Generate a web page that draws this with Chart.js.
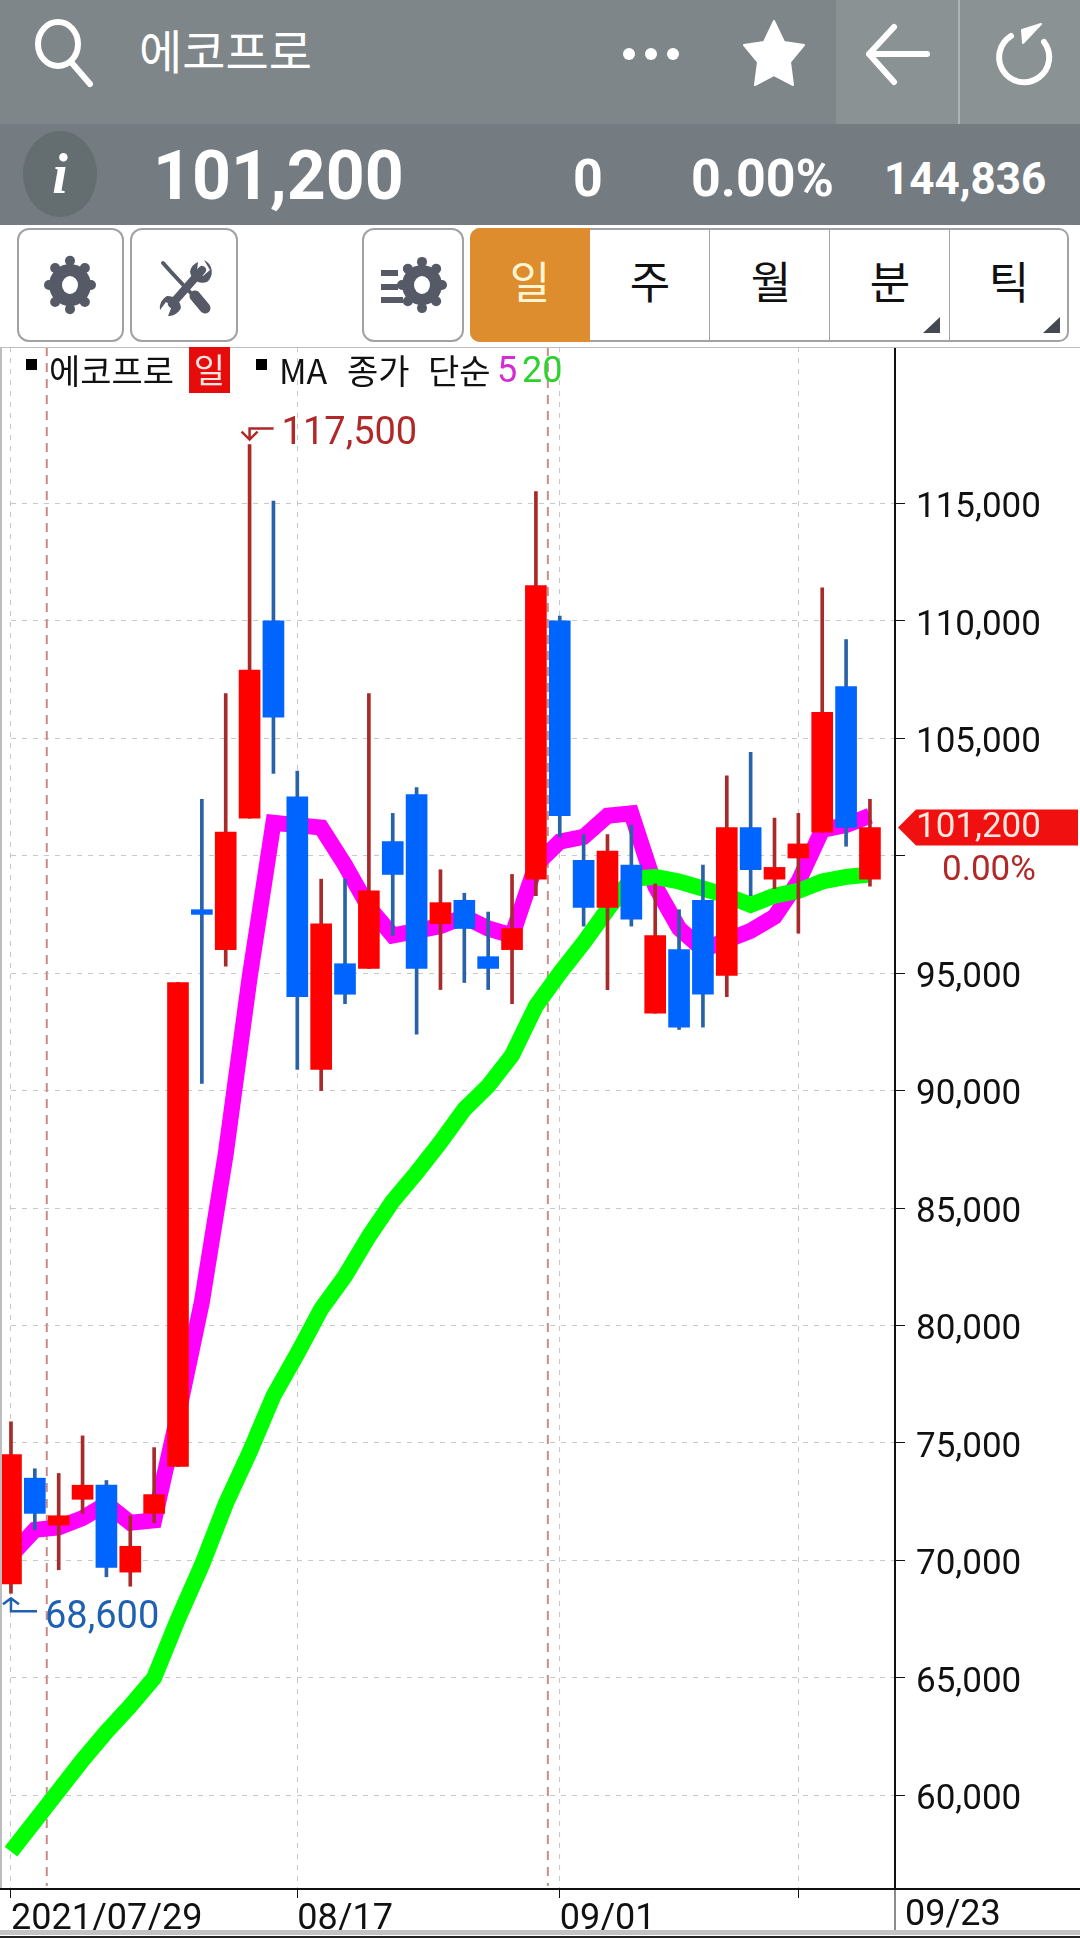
<!DOCTYPE html>
<html lang="ko">
<head>
<meta charset="utf-8">
<title>에코프로</title>
<script src="https://cdn.jsdelivr.net/npm/chart.js@4"></script>
<style>
  html, body { margin: 0; padding: 0; background: #fff; }
  #page { position: relative; width: 1080px; height: 1938px; overflow: hidden; font-family: Roboto, "Noto Sans CJK KR", sans-serif; }
  #page div, #page span { position: absolute; white-space: nowrap; }
  #chart { position: absolute; left: 0; top: 347px; }
  .kr { font-family: "Noto Sans CJK KR", sans-serif; }
  .num { font-weight: 700; color: #fff; line-height: 1; }
  .btn { box-sizing: border-box; top: 228px; height: 114px; border: 2.5px solid #a2a2a2; border-radius: 12px; background: #fff; }
  .seg { top: 250px; font-size: 44px; line-height: 60px; text-align: center; width: 120px; color: #111; }
  .leg { top: 347px; font-size: 34px; line-height: 46px; color: #111; }
</style>
</head>
<body>
<div id="page">
  <div style="left:0;top:0;width:1080px;height:124px;background:#7f8689"></div>
  <div style="left:836px;top:0;width:244px;height:124px;background:#8a9294"></div>
  <div style="left:958px;top:0;width:2px;height:124px;background:#aeb3b5"></div>
  <div style="left:0;top:124px;width:1080px;height:101px;background:#747b81"></div>
  <div class="kr" style="left:139px;top:18px;font-size:47px;line-height:62px;color:#fff">에코프로</div>
  <div class="num" style="left:153px;top:142px;font-size:68px">101,200</div>
  <div class="num" style="left:573px;top:153px;font-size:52px">0</div>
  <div class="num" style="left:691px;top:153px;font-size:52px">0.00%</div>
  <div class="num" style="left:884px;top:157px;font-size:44px">144,836</div>

  <div class="btn" style="left:17px;width:107px"></div>
  <div class="btn" style="left:130px;width:108px"></div>
  <div class="btn" style="left:362px;width:102px"></div>
  <div style="left:470px;top:228px;width:599px;height:114px;box-sizing:border-box;border:2px solid #a2a2a2;border-radius:10px"></div>
  <div style="left:470px;top:228px;width:120px;height:114px;background:#dd8c2e;border-radius:10px 0 0 10px"></div>
  <div style="left:709px;top:229px;width:1px;height:112px;background:#a2a2a2"></div>
  <div style="left:829px;top:229px;width:1px;height:112px;background:#a2a2a2"></div>
  <div style="left:949px;top:229px;width:1px;height:112px;background:#a2a2a2"></div>
  <div class="seg kr" style="left:470px;color:#fff5d0">일</div>
  <div class="seg kr" style="left:590px">주</div>
  <div class="seg kr" style="left:711px">월</div>
  <div class="seg kr" style="left:830px">분</div>
  <div class="seg kr" style="left:949px">틱</div>

  <svg id="icons" width="1080" height="347" style="position:absolute;left:0;top:0">
    <g fill="none" stroke="#fff" stroke-width="6" stroke-linecap="round" stroke-linejoin="round">
      <ellipse cx="58" cy="44" rx="20" ry="22"/>
      <path d="M71 62 L90 84"/>
      <path d="M927 54 L869 54 M894 27 L869 54 L894 82"/>
      <path d="M1044 42 A25 25 0 1 1 1011 36"/>
    </g>
    <g fill="#fff">
      <circle cx="629" cy="54" r="6"/><circle cx="651" cy="54" r="6"/><circle cx="673" cy="54" r="6"/>
      <path d="M774 21 L784 42 L804 45 L790 62 L793 85 L774 75 L755 85 L758 62 L744 45 L764 42 Z" stroke="#fff" stroke-width="2" stroke-linejoin="round"/>
      <path d="M1022 30 L1041 24 L1023 43 Z" stroke="#fff" stroke-width="2" stroke-linejoin="round"/>
    </g>
    <ellipse cx="60" cy="174" rx="37" ry="43" fill="#646d70"/>
    <text x="60" y="193" text-anchor="middle" font-family="Liberation Serif" font-weight="700" font-style="italic" font-size="56" fill="#fff">i</text>
    <g id="gears" fill="#555a66"></g>
    <g fill="#555a66">
      <rect x="381" y="270" width="17" height="6"/><rect x="381" y="284" width="17" height="6"/><rect x="381" y="297" width="22" height="6"/>
    </g>
    <g stroke="#555a66" stroke-linecap="round">
      <path d="M163 263 L172 273 L203 306" stroke-width="4" fill="none"/>
      <path d="M195 296 L205 308" stroke-width="11" fill="none"/>
      <path d="M172 304 L202 270" stroke-width="8" fill="none"/>
    </g>
    <g fill="#555a66">
      <path d="M204 260 A13 13 0 0 1 207 282 A13 13 0 0 1 190 272 A13 13 0 0 1 198 262 L197 271 L203 276 L210 270 Z"/>
      <path d="M167 296 A13 13 0 0 1 181 308 A13 13 0 0 1 168 316 L172 306 L166 302 L160 310 A13 13 0 0 1 167 296 Z"/>
    </g>
    <path d="M940 317 L940 333 L923 333 Z" fill="#444850"/>
    <path d="M1060 317 L1060 333 L1043 333 Z" fill="#444850"/>
  </svg>

  <canvas id="chart" width="1080" height="1591"></canvas>

  <div style="left:26px;top:359px;width:11px;height:11px;background:#000"></div>
  <div class="leg kr" style="left:49px">에코프로</div>
  <div style="left:189px;top:347px;width:41px;height:46px;background:#e60c0c"></div>
  <div class="kr" style="left:189px;top:347px;width:41px;text-align:center;font-size:34px;line-height:44px;color:#ffe4e4">일</div>
  <div style="left:256px;top:359px;width:11px;height:11px;background:#000"></div>
  <div class="leg kr" style="left:279px">MA</div>
  <div class="leg kr" style="left:347px">종가</div>
  <div class="leg kr" style="left:428px">단순</div>
  <div class="leg" style="left:497px;font-size:36px;color:#d22ed2">5</div>
  <div class="leg" style="left:522px;font-size:36px;color:#2ed22e">20</div>
</div>

<script>
const dates = ['07/29','07/30','08/02','08/03','08/04','08/05','08/06','08/09','08/10','08/11','08/12','08/13',
  '08/17','08/18','08/19','08/20','08/23','08/24','08/25','08/26','08/27','08/30','08/31',
  '09/01','09/02','09/03','09/06','09/07','09/08','09/09','09/10','09/13','09/14','09/15','09/16','09/17','09/23'];
const opens = [69000,73500,71500,72600,73200,69500,72000,74000,97700,96000,101600,110000,102500,90900,95400,95200,100600,102600,97100,98100,95700,96000,99000,110000,99800,97800,99600,93300,96000,98100,94900,101200,99000,99900,101000,107200,99000];
const closes = [74500,72000,71900,73200,69700,70600,72800,94600,97500,101000,107900,105900,94000,97100,94100,98500,99200,95200,98000,96900,95200,96900,111500,101700,97800,100200,97300,96600,92700,94100,101200,99400,99500,100500,106100,101200,101200];
const highs = [75900,73900,73700,75300,73400,71900,74800,94600,102400,106900,117500,115100,103600,99000,99000,106900,101800,102900,99400,98400,97600,99200,115500,110200,100900,100900,101300,98800,97700,99600,103400,104400,101600,101800,111400,109200,102400];
const lows = [68600,71300,69600,72000,69300,68900,71600,74000,90300,95300,101600,103500,90900,90000,93700,95200,96600,92400,94300,94600,94300,93700,98300,100800,97000,94300,97000,93300,92600,92700,94000,98300,98600,96700,101000,100400,98700];
const ma5 = [70200,71300,71400,71800,72400,71600,71700,76200,81000,87300,94800,101400,101300,101200,99600,97800,96600,96800,97000,97400,96900,96600,99600,100600,100800,101700,101800,98700,96900,96000,96400,96800,97400,98900,101100,101300,101700];
const ma20 = [57600,58900,60200,61500,62700,63800,65000,67500,69800,72400,74600,77000,78800,80700,82100,83800,85300,86500,87800,89200,90200,91500,93600,95000,96300,97700,99000,99100,98900,98600,98300,97900,98300,98500,98900,99100,99200];
const yTicks = [60000,65000,70000,75000,80000,85000,90000,95000,100000,105000,110000,115000];
const xTickIdx = [0,12,23,33];
const xTickLabels = ['2021/07/29','08/17','09/01',''];
const monthBreaks = [1.5,22.5];

const UP = '#ff0000', DOWN = '#0064ff', UP_WICK = '#a82a2a', DOWN_WICK = '#2a62a8';
const fmt = (v) => v.toLocaleString('en-US');
const isUp = (i) => closes[i] >= opens[i];

// gear icons, 8 bumps round a disc
function addGear(cx, cy, r) {
  const g = document.getElementById('gears');
  let s = `<circle cx="${cx}" cy="${cy}" r="${r - 4}"/>`;
  for (let k = 0; k < 8; k++) {
    const a = k * Math.PI / 4;
    s += `<circle cx="${cx + (r - 4) * Math.sin(a)}" cy="${cy - (r - 2) * Math.cos(a) * 1.05}" r="5"/>`;
  }
  s += `<ellipse cx="${cx}" cy="${cy}" rx="8" ry="9" fill="#fff"/>`;
  g.innerHTML += s;
}
addGear(70, 285, 25);
addGear(422, 285, 24);

const overlay = {
  id: 'overlay',
  beforeDraw(chart) {
    // price labels sit a bit under their grid line in the app
    chart.scales.y.getLabelItems(chart.chartArea).forEach((it) => { it.options.translation[1] += 5; });
  },
  beforeDatasetsDraw(chart) {
    const { ctx, chartArea: a, scales: { x } } = chart;
    ctx.save();
    // grid lines start a little in from the left edge
    ctx.fillStyle = '#fff';
    ctx.fillRect(0, a.top, 7, a.bottom - a.top);
    ctx.strokeStyle = '#c98c8c';
    ctx.lineWidth = 2;
    ctx.setLineDash([9, 7]);
    monthBreaks.forEach((b) => {
      const px = x.getPixelForValue(b);
      ctx.beginPath();
      ctx.moveTo(px, a.top);
      ctx.lineTo(px, a.bottom - 3);
      ctx.stroke();
    });
    ctx.restore();
  },
  afterDraw(chart) {
    const { ctx, chartArea: a, scales: { x, y } } = chart;
    ctx.save();
    // frame
    ctx.fillStyle = '#bdbdbd';
    ctx.fillRect(0, 0, 1080, 1);
    ctx.fillRect(0, 0, 2, a.bottom);
    ctx.fillStyle = '#111';
    ctx.fillRect(0, a.bottom - 1, 1080, 2);
    ctx.fillStyle = '#8c8c8c';
    ctx.fillRect(a.right - 1, a.bottom + 1, 2, 41);
    ctx.fillStyle = '#c4c4c4';
    ctx.fillRect(0, a.bottom + 41, 1080, 5);
    ctx.fillStyle = '#222';
    ctx.fillRect(0, a.bottom + 47, 1080, 2);

    ctx.font = '36px Roboto';
    ctx.textBaseline = 'middle';
    ctx.textAlign = 'left';
    ctx.fillStyle = '#111';
    ctx.fillText(dates[dates.length - 1], a.right + 10, a.bottom + 27);

    // highest / lowest markers
    const hi = highs.indexOf(Math.max(...highs));
    const lo = lows.indexOf(Math.min(...lows));
    const hx = x.getPixelForValue(hi), hy = y.getPixelForValue(highs[hi]);
    const lx = x.getPixelForValue(lo), ly = y.getPixelForValue(lows[lo]);
    ctx.lineWidth = 2.5;
    ctx.strokeStyle = ctx.fillStyle = '#b02828';
    ctx.beginPath();
    ctx.moveTo(hx + 24, hy - 16); ctx.lineTo(hx, hy - 16); ctx.lineTo(hx, hy - 5);
    ctx.moveTo(hx - 8, hy - 13); ctx.lineTo(hx, hy - 5); ctx.lineTo(hx + 8, hy - 13);
    ctx.stroke();
    ctx.font = '38px Roboto';
    ctx.fillText(fmt(highs[hi]), hx + 32, hy - 10);

    ctx.strokeStyle = ctx.fillStyle = '#1f60b0';
    ctx.beginPath();
    ctx.moveTo(lx + 26, ly + 18); ctx.lineTo(lx, ly + 18); ctx.lineTo(lx, ly + 5);
    ctx.moveTo(lx - 8, ly + 11); ctx.lineTo(lx, ly + 5); ctx.lineTo(lx + 8, ly + 11);
    ctx.stroke();
    ctx.fillText(fmt(lows[lo]), lx + 34, ly + 25);

    // last price tag
    const last = closes[closes.length - 1];
    const ty = y.getPixelForValue(last);
    ctx.fillStyle = '#f01010';
    ctx.beginPath();
    ctx.moveTo(a.right + 3, ty);
    ctx.lineTo(a.right + 21, ty - 18);
    ctx.lineTo(1078, ty - 18);
    ctx.lineTo(1078, ty + 18);
    ctx.lineTo(a.right + 21, ty + 18);
    ctx.closePath();
    ctx.fill();
    ctx.font = '35px Roboto';
    ctx.fillStyle = '#ffe8e0';
    ctx.fillText(fmt(last), a.right + 21, ty + 1);
    ctx.fillStyle = '#b02828';
    ctx.fillText('0.00%', a.right + 47, ty + 44);
    ctx.restore();
  },
};

new Chart(document.getElementById('chart'), {
  data: {
    datasets: [
      {
        type: 'bar',
        order: 1,
        grouped: false,
        barThickness: 21,
        data: dates.map((d, i) => ({ x: i, y: [opens[i], closes[i]] })),
        backgroundColor: dates.map((d, i) => (isUp(i) ? UP : DOWN)),
        borderWidth: 0,
      },
      {
        type: 'bar',
        order: 2,
        grouped: false,
        barThickness: 3,
        data: dates.map((d, i) => ({ x: i, y: [lows[i], highs[i]] })),
        backgroundColor: dates.map((d, i) => (isUp(i) ? UP_WICK : DOWN_WICK)),
        borderWidth: 0,
      },
      {
        type: 'line',
        order: 3,
        data: ma20.map((v, i) => ({ x: i, y: v })),
        borderColor: '#00ff00',
        borderWidth: 16,
        borderJoinStyle: 'miter',
        pointRadius: 0,
        tension: 0,
      },
      {
        type: 'line',
        order: 4,
        data: ma5.map((v, i) => ({ x: i, y: v })),
        borderColor: '#ff00ff',
        borderWidth: 16,
        borderJoinStyle: 'miter',
        pointRadius: 0,
        tension: 0,
      },
    ],
  },
  options: {
    responsive: false,
    animation: false,
    layout: { padding: 0 },
    plugins: { legend: { display: false }, tooltip: { enabled: false } },
    scales: {
      x: {
        type: 'linear',
        offset: false,
        min: -0.46,
        max: 37.05,
        afterBuildTicks: (scale) => { scale.ticks = xTickIdx.map((v) => ({ value: v })); },
        afterFit: (scale) => { scale.height = 49; scale.paddingLeft = 0; scale.paddingRight = 0; },
        ticks: {
          autoSkip: false,
          maxRotation: 0,
          minRotation: 0,
          align: 'start',
          padding: 0,
          color: '#111',
          font: { family: 'Roboto', size: 36 },
          callback: (v) => xTickLabels[xTickIdx.indexOf(v)],
        },
        grid: { offset: false, color: '#c8c8c8', tickColor: '#111', tickLength: 9 },
        border: { display: false, dash: [5, 6] },
      },
      y: {
        position: 'right',
        min: 56010,
        max: 121654,
        afterBuildTicks: (scale) => { scale.ticks = yTicks.map((v) => ({ value: v })); },
        afterFit: (scale) => { scale.width = 185; scale.paddingTop = 0; scale.paddingBottom = 0; },
        ticks: {
          padding: 11,
          color: '#111',
          font: { family: 'Roboto', size: 35 },
          // 100,000 is hidden behind the last price tag in the app
          callback: (v) => (v === 100000 ? '' : fmt(v)),
        },
        grid: { color: '#c8c8c8', tickColor: '#111', tickLength: 10 },
        border: { display: true, color: '#111', width: 2, dash: [5, 6] },
      },
    },
  },
  plugins: [overlay],
});
</script>
</body>
</html>
